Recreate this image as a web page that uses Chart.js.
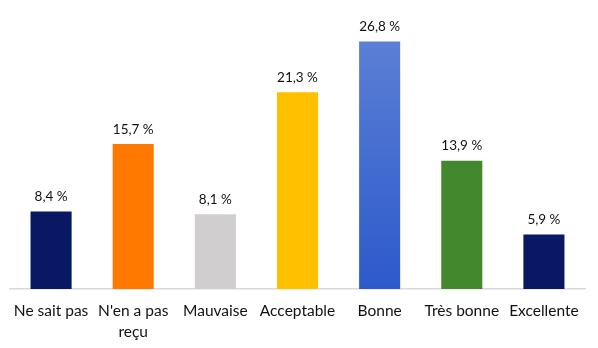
<!DOCTYPE html>
<html>
<head>
<meta charset="utf-8">
<script src="https://cdn.jsdelivr.net/npm/chart.js@4"></script>
<style>
  html, body { margin: 0; padding: 0; background: #fff; }
  #wrap { width: 598px; height: 348px; }
</style>
</head>
<body>
<div id="wrap"><canvas id="myChart"></canvas></div>
<script>
const categories = ["Ne sait pas", ["N'en a pas", "reçu"], "Mauvaise", "Acceptable", "Bonne", "Très bonne", "Excellente"];
const percentages = [8.4, 15.7, 8.1, 21.3, 26.8, 13.9, 5.9];
const barColors = ["#081862", "#ff7800", "#d0cece", "#ffc000", "blue-gradient", "#43882d", "#081862"];

const labelFont = "Lato, 'Open Sans', sans-serif";

function barFill(context) {
  const c = barColors[context.dataIndex];
  if (c !== "blue-gradient") return c;
  const area = context.chart.chartArea;
  if (!area) return "#4472c4";
  const g = context.chart.ctx.createLinearGradient(0, area.top, 0, area.bottom);
  g.addColorStop(0, "#6183d6");
  g.addColorStop(1, "#2c5acb");
  return g;
}

// value labels drawn above each bar, French decimal comma
const valueLabels = {
  id: "valueLabels",
  afterDatasetsDraw(chart) {
    const ctx = chart.ctx;
    const meta = chart.getDatasetMeta(0);
    ctx.save();
    ctx.font = "13.5px " + labelFont;
    ctx.fillStyle = "#111";
    ctx.textAlign = "center";
    ctx.textBaseline = "bottom";
    meta.data.forEach((bar, i) => {
      const txt = percentages[i].toFixed(1).replace(".", ",") + " %";
      ctx.fillText(txt, bar.x, bar.y - 8);
    });
    ctx.restore();
  }
};

new Chart(document.getElementById("myChart"), {
  type: "bar",
  data: {
    labels: categories,
    datasets: [{
      data: percentages,
      backgroundColor: barFill,
      borderWidth: 0,
      barPercentage: 0.5,
      categoryPercentage: 1.0
    }]
  },
  options: {
    responsive: true,
    maintainAspectRatio: false,
    animation: false,
    layout: { padding: { top: 12, left: 10, right: 13, bottom: 0 } },
    plugins: {
      legend: { display: false },
      tooltip: { enabled: false }
    },
    scales: {
      x: {
        grid: { display: false },
        border: { color: "#d9d9d9", width: 1.5 },
        ticks: {
          color: "#111",
          font: { family: labelFont, size: 15.5, lineHeight: 1.35 },
          padding: 4,
          maxRotation: 0,
          autoSkip: false
        },
        afterFit(scale) { scale.height = 59; }
      },
      y: {
        display: false,
        min: 0,
        max: 30
      }
    }
  },
  plugins: [valueLabels]
});
</script>
</body>
</html>
